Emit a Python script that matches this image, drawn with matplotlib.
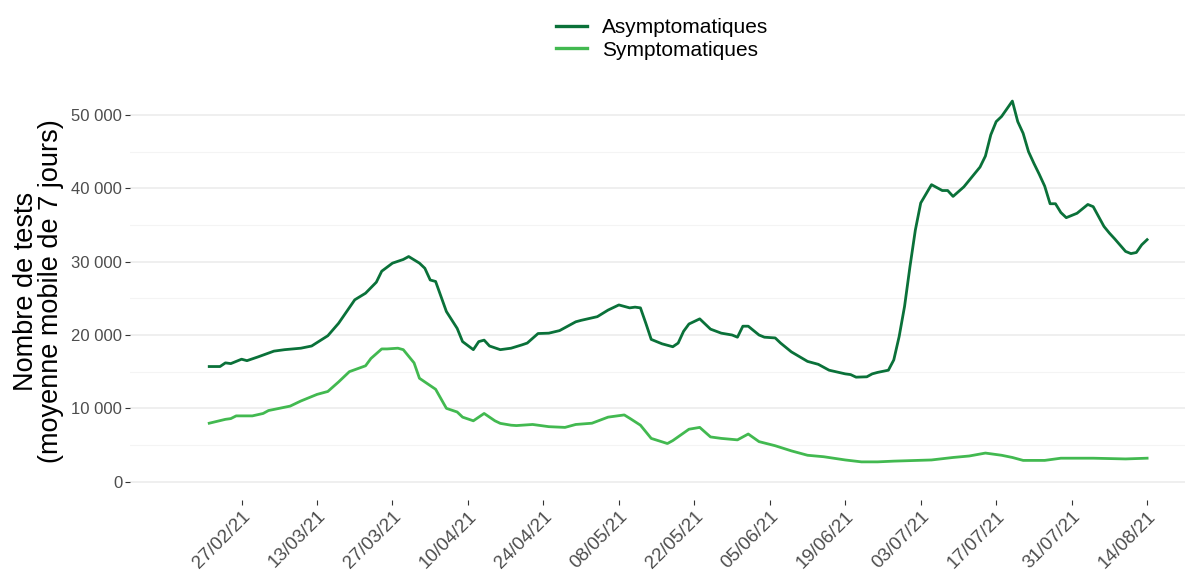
import pandas as pd
import matplotlib
matplotlib.use('Agg')
import matplotlib.pyplot as plt
import matplotlib.dates as mdates
from matplotlib.ticker import MultipleLocator, FuncFormatter

plt.rcParams['font.family'] = ['Liberation Sans', 'DejaVu Sans']

# Asymptomatic tests (7-day moving average)
asympto_dates = ['2021-02-21', '2021-02-23', '2021-02-24', '2021-02-25', '2021-02-27', '2021-02-28',
                 '2021-03-02', '2021-03-05', '2021-03-07', '2021-03-10', '2021-03-12', '2021-03-15',
                 '2021-03-17', '2021-03-20', '2021-03-22', '2021-03-24', '2021-03-25', '2021-03-27',
                 '2021-03-29', '2021-03-30', '2021-04-01', '2021-04-02', '2021-04-03', '2021-04-04',
                 '2021-04-06', '2021-04-08', '2021-04-09', '2021-04-11', '2021-04-12', '2021-04-13',
                 '2021-04-14', '2021-04-16', '2021-04-18', '2021-04-20', '2021-04-21', '2021-04-23',
                 '2021-04-25', '2021-04-27', '2021-04-30', '2021-05-01', '2021-05-04', '2021-05-06',
                 '2021-05-08', '2021-05-10', '2021-05-11', '2021-05-12', '2021-05-13', '2021-05-14',
                 '2021-05-16', '2021-05-18', '2021-05-19', '2021-05-20', '2021-05-21', '2021-05-23',
                 '2021-05-25', '2021-05-27', '2021-05-29', '2021-05-30', '2021-05-31', '2021-06-01',
                 '2021-06-03', '2021-06-04', '2021-06-06', '2021-06-07', '2021-06-09', '2021-06-12',
                 '2021-06-14', '2021-06-16', '2021-06-19', '2021-06-20', '2021-06-21', '2021-06-23',
                 '2021-06-24', '2021-06-25', '2021-06-27', '2021-06-28', '2021-06-29', '2021-06-30',
                 '2021-07-01', '2021-07-02', '2021-07-03', '2021-07-05', '2021-07-07', '2021-07-08',
                 '2021-07-09', '2021-07-11', '2021-07-14', '2021-07-15', '2021-07-16', '2021-07-17',
                 '2021-07-18', '2021-07-20', '2021-07-21', '2021-07-22', '2021-07-23', '2021-07-24',
                 '2021-07-25', '2021-07-26', '2021-07-27', '2021-07-28', '2021-07-29', '2021-07-30',
                 '2021-08-01', '2021-08-03', '2021-08-04', '2021-08-06', '2021-08-07', '2021-08-08',
                 '2021-08-10', '2021-08-11', '2021-08-12', '2021-08-13', '2021-08-14']
asympto_values = [15700, 15700, 16200, 16100, 16700, 16500,
                  17000, 17800, 18000, 18200, 18500, 19900,
                  21600, 24800, 25700, 27200, 28700, 29800,
                  30300, 30700, 29800, 29100, 27500, 27300,
                  23200, 20900, 19100, 18000, 19100, 19300,
                  18500, 18000, 18200, 18650, 18900, 20200,
                  20250, 20600, 21800, 22000, 22500, 23400,
                  24100, 23700, 23800, 23700, 21600, 19400,
                  18800, 18400, 18900, 20500, 21500, 22200,
                  20800, 20250, 20000, 19700, 21200, 21200,
                  20000, 19700, 19600, 18900, 17700, 16400,
                  16000, 15200, 14700, 14600, 14250, 14300,
                  14700, 14900, 15200, 16600, 19800, 23900,
                  29300, 34300, 38000, 40500, 39700, 39700,
                  38900, 40200, 42900, 44400, 47300, 49100,
                  49800, 51900, 49100, 47500, 45000, 43400,
                  41900, 40300, 37900, 37900, 36700, 36000,
                  36600, 37800, 37500, 34800, 33900, 33100,
                  31400, 31100, 31250, 32300, 33000]

# Symptomatic tests (7-day moving average)
sympto_dates = ['2021-02-21', '2021-02-24', '2021-02-25', '2021-02-26', '2021-03-01', '2021-03-03',
                '2021-03-04', '2021-03-06', '2021-03-08', '2021-03-10', '2021-03-13', '2021-03-15',
                '2021-03-17', '2021-03-19', '2021-03-22', '2021-03-23', '2021-03-25', '2021-03-26',
                '2021-03-28', '2021-03-29', '2021-03-31', '2021-04-01', '2021-04-03', '2021-04-04',
                '2021-04-06', '2021-04-08', '2021-04-09', '2021-04-11', '2021-04-13', '2021-04-15',
                '2021-04-16', '2021-04-18', '2021-04-19', '2021-04-22', '2021-04-25', '2021-04-28',
                '2021-04-30', '2021-05-03', '2021-05-06', '2021-05-09', '2021-05-10', '2021-05-12',
                '2021-05-14', '2021-05-17', '2021-05-18', '2021-05-21', '2021-05-23', '2021-05-25',
                '2021-05-27', '2021-05-30', '2021-06-01', '2021-06-03', '2021-06-06', '2021-06-09',
                '2021-06-12', '2021-06-15', '2021-06-19', '2021-06-22', '2021-06-25', '2021-06-28',
                '2021-07-05', '2021-07-09', '2021-07-12', '2021-07-15', '2021-07-18', '2021-07-20',
                '2021-07-22', '2021-07-26', '2021-07-29', '2021-08-04', '2021-08-10', '2021-08-14']
sympto_values = [7970, 8500, 8600, 8970, 8970, 9300,
                 9700, 10000, 10300, 11000, 11900, 12300,
                 13600, 15000, 15800, 16800, 18100, 18100,
                 18200, 18000, 16200, 14100, 13100, 12600,
                 10000, 9500, 8800, 8300, 9300, 8300,
                 7950, 7700, 7650, 7800, 7500, 7400,
                 7800, 7970, 8800, 9100, 8650, 7700,
                 5900, 5200, 5600, 7150, 7400, 6100,
                 5900, 5700, 6500, 5460, 4900, 4200,
                 3600, 3400, 2960, 2700, 2700, 2800,
                 2960, 3300, 3500, 3900, 3600, 3300,
                 2900, 2900, 3200, 3200, 3100, 3200]

series_labels = ['Asymptomatiques', 'Symptomatiques']
tick_start = '2021-02-27'
tick_count = 13

dark = '#0A7139'
light = '#42B950'

fig = plt.figure(figsize=(11.85, 5.76), dpi=100)
ax = fig.add_axes([130 / 1185, 76 / 576, 1064 / 1185, 418 / 576])

ax.plot(pd.to_datetime(asympto_dates), asympto_values, color=dark, lw=2.0, label=series_labels[0],
        solid_joinstyle='round')
ax.plot(pd.to_datetime(sympto_dates), sympto_values, color=light, lw=2.0, label=series_labels[1],
        solid_joinstyle='round')

start = pd.Timestamp('2021-02-21')
ax.set_xlim(start - pd.Timedelta(days=14.7), start + pd.Timedelta(days=182.7))
ax.set_ylim(-2500, 54500)

ticks = pd.date_range(tick_start, periods=tick_count, freq='14D')
ax.set_xticks(ticks)
ax.xaxis.set_major_formatter(mdates.DateFormatter('%d/%m/%y'))

ax.yaxis.set_major_locator(MultipleLocator(10000))
ax.yaxis.set_minor_locator(MultipleLocator(5000))
ax.yaxis.set_major_formatter(FuncFormatter(lambda v, p: f'{int(v):,}'.replace(',', ' ')))

ax.grid(axis='y', which='major', color='#EBEBEB', lw=1.1)
ax.grid(axis='y', which='minor', color='#F4F4F4', lw=0.8)
ax.grid(axis='x', visible=False)
ax.set_axisbelow(True)
for s in ax.spines.values():
    s.set_visible(False)

ax.tick_params(axis='both', which='major', length=3.5, width=0.8, color='#333333',
               labelsize=12, labelcolor='#4D4D4D', pad=2)
ax.tick_params(axis='x', which='major', labelsize=13.5)
ax.tick_params(axis='y', which='minor', length=0)
for lab in ax.get_xticklabels():
    lab.set_rotation(45)
    lab.set_ha('right')
    lab.set_va('top')
    lab.set_rotation_mode('anchor')

ax.set_ylabel('Nombre de tests\n(moyenne mobile de 7 jours)', fontsize=19.5, color='black',
              labelpad=5, linespacing=0.95)

leg = fig.legend(loc='upper center', bbox_to_anchor=(662 / 1185, 0.986), frameon=False, fontsize=15,
                 handlelength=1.5, handletextpad=0.7, labelspacing=0.15, borderpad=0)
for h in leg.get_lines():
    h.set_linewidth(2.4)

fig.savefig('out.png', dpi=100)
